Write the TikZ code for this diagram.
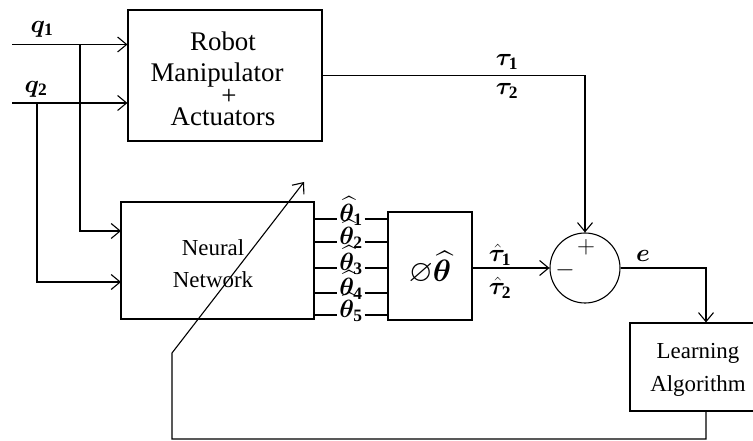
\RequirePackage{fix-cm}
\documentclass[tikz,border=0pt]{standalone}
\usepackage{amsmath,amssymb,bm}
\usepackage{fontspec}
\setmainfont{Liberation Serif}
\usetikzlibrary{arrows.meta}
\begin{document}
\begin{tikzpicture}[x=1bp,y=-1bp,
  every path/.style={line width=1.1bp},
  blk/.style={draw,rectangle,inner sep=0pt,line width=1.1bp},
  bigtxt/.style={font=\fontsize{27}{31}\selectfont,inner sep=0pt},
  txt/.style={font=\fontsize{23}{27}\selectfont,inner sep=0pt},
  mlab/.style={font=\fontsize{25}{29}\selectfont,inner sep=0pt},
  tlab/.style={font=\fontsize{25}{29}\selectfont,inner sep=1.5bp,anchor=mid},
  arr/.style={-{Straight Barb[length=9bp,width=15bp,line width=1.1bp]}}]
\useasboundingbox (0,0) rectangle (753,441);
% blocks
\node[blk,minimum width=194bp,minimum height=131bp] (robot) at (225,75.5) {};
\node[bigtxt] at (223,41) {Robot};
\node[bigtxt] at (217,75) {Manipulator};
\node[bigtxt] at (229,97) {+};
\node[bigtxt] at (223,117) {Actuators};
\node[blk,minimum width=193bp,minimum height=117bp] (nn) at (217.5,260.5) {};
\node[txt] at (213,248) {Neural};
\node[txt] at (213,280) {Network};
\node[blk,minimum width=84bp,minimum height=108bp] (phi) at (430,266) {};
\node[font=\fontsize{31}{35}\selectfont,inner sep=0pt] at (430,268) {$\varnothing\widehat{\bm{\theta}}$};
\node[draw,circle,minimum size=70bp,inner sep=0pt,line width=1.1bp] (sum) at (585,268) {};
\node[mlab] at (586,247) {$+$};
\node[mlab] at (565,270) {$-$};
\node[blk,minimum width=152bp,minimum height=88bp] (learn) at (706,367) {};
\node[txt] at (698,353) {Learning};
\node[txt] at (698,386) {Algorithm};
% inputs
\coordinate (q1in) at (12,44.5);
\coordinate (q2in) at (12,103);
\coordinate (j1) at (80,44.5);
\coordinate (j2) at (37,103);
\coordinate (nnin1) at (121,231);
\coordinate (nnin2) at (121,282);
\node[mlab] at (42,29) {$\bm{q}_{\mathbf 1}$};
\node[mlab] at (36,89) {$\bm{q}_{\mathbf 2}$};
\draw[arr] (q1in) -- (q1in -| robot.west);
\draw[arr] (q2in) -- (q2in -| robot.west);
\draw[arr] (j1) |- (nnin1);
\draw[arr] (j2) |- (nnin2);
% robot output
\draw[arr] (robot.east) -| (sum.north);
\node[mlab] at (507,62) {$\bm{\tau}_{\mathbf 1}$};
\node[mlab] at (507,91) {$\bm{\tau}_{\mathbf 2}$};
% theta lines
\foreach \i/\yy in {1/219,2/242,3/268,4/293,5/315}{
  \node[tlab] (t\i) at (351,\yy) {$\widehat{\bm{\theta}}_{\mathbf{\i}}$};
  \draw (nn.east |- t\i.mid west) -- (t\i.mid west);
  \draw (t\i.mid east) -- (phi.west |- t\i.mid east);
}
% estimated output
\draw[arr] (phi.east |- sum.west) -- (sum.west);
\node[mlab] at (500,255) {$\hat{\bm{\tau}}_{\mathbf 1}$};
\node[mlab] at (500,288) {$\hat{\bm{\tau}}_{\mathbf 2}$};
% error
\draw[arr] (sum.east) -| (learn.north);
\node[mlab] at (643,256) {$\bm{e}$};
% feedback
\coordinate (fbA) at (172,439);
\coordinate (fbB) at (172,353);
\coordinate (fbTip) at (304,182);
\draw[arr] (learn.south) |- (fbA) -- (fbB) -- (fbTip);
\end{tikzpicture}
\end{document}
